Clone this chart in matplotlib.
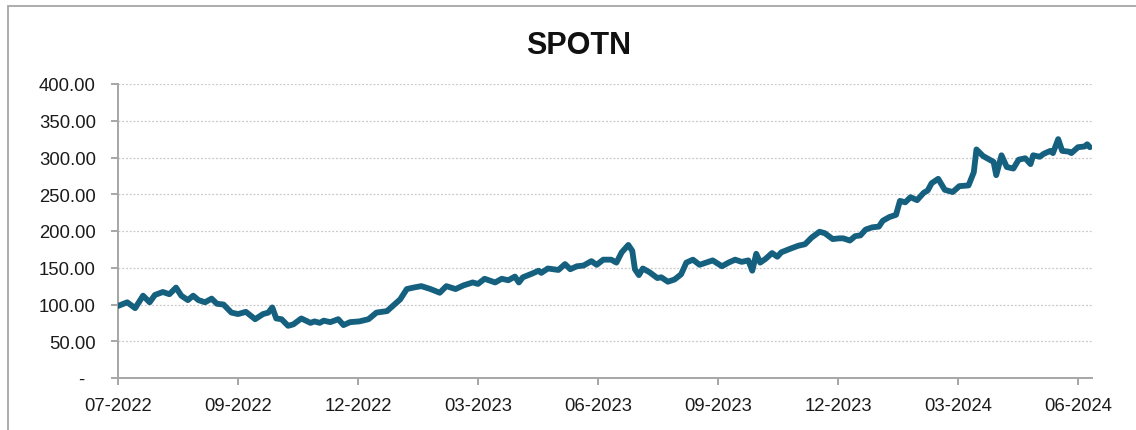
import matplotlib
matplotlib.use("Agg")
import matplotlib.pyplot as plt
import matplotlib.dates as mdates
from matplotlib.patches import Rectangle
import pandas as pd

plt.rcParams['font.family'] = ['Liberation Sans', 'DejaVu Sans']

title = "SPOTN"
start_date = "2022-07-01"
days = [0,7,13,19,24,28,34,39,44,48,
        53,57,61,66,71,75,80,86,91,97,
        104,110,114,117,120,124,129,133,139,146,
        149,153,156,161,167,171,176,183,190,196,
        204,209,214,219,224,230,237,244,249,256,
        262,269,273,278,286,291,296,301,304,307,
        314,319,321,326,334,339,343,348,353,359,
        363,368,374,378,382,387,390,392,395,398,
        403,409,412,417,422,427,431,436,441,446,
        451,458,463,468,473,478,481,484,487,491,
        496,500,503,510,516,521,526,532,536,542,
        547,550,555,559,563,567,572,577,580,585,
        590,593,597,601,606,611,614,617,622,627,
        633,638,645,649,651,656,660,664,666,670,
        674,679,683,688,692,694,699,702,707,709,
        713,716,721,723,728,733,735,737]
values = [98,103,95,112,103,113,117,114,123,112,
          106,112,106,103,108,101,100,89,87,90,
          80,87,89,96,81,80,71,73,81,75,
          77,75,78,76,80,72,76,77,80,89,
          91,99,107,121,123,125,121,116,125,121,
          126,130,128,135,130,135,133,138,130,137,
          142,146,143,149,147,155,148,152,153,159,
          154,161,161,157,171,181,173,148,140,149,
          144,136,137,131,134,141,157,161,154,157,
          160,152,157,161,158,160,146,169,157,162,
          170,165,171,176,180,182,191,199,197,189,
          190,190,187,193,194,202,205,206,214,219,
          222,241,239,246,242,252,255,265,271,256,
          253,261,262,280,311,302,298,294,276,303,
          287,285,297,299,291,303,301,305,309,306,
          325,309,308,306,314,315,318,314]
tick_dates = ["2022-07-01","2022-09-30","2022-12-30","2023-03-31","2023-06-30",
              "2023-09-29","2023-12-29","2024-03-29","2024-06-28"]
y_ticks = [0, 50, 100, 150, 200, 250, 300, 350, 400]

dates = pd.Timestamp(start_date) + pd.to_timedelta(days, unit="D")

W, H = 1136, 431
fig = plt.figure(figsize=(W/100, H/100), dpi=100)
fig.patch.set_facecolor("white")
fig.patches.append(Rectangle((8/W, -0.1), 1.2, 1 - 7/H + 0.1, transform=fig.transFigure,
                             fill=False, edgecolor="#a6a6a6", linewidth=1.3))

ax = fig.add_axes([118/W, 1 - 379/H, (1091.7 - 118)/W, (379 - 85)/H])
ax.plot(dates, values, color="#15607f", linewidth=4.2, solid_capstyle="round",
        solid_joinstyle="round", zorder=3)

ax.set_ylim(0, 400)
ax.set_xlim(pd.Timestamp(start_date), pd.Timestamp(start_date) + pd.Timedelta(days=738.4))
ax.set_yticks(y_ticks)
ax.set_yticklabels(["-  " if v == 0 else f"{v:,.2f}" for v in y_ticks])
ax.set_xticks(pd.to_datetime(tick_dates))
ax.xaxis.set_major_formatter(mdates.DateFormatter("%m-%Y"))

ax.grid(axis="y", color="#c8c8c8", linestyle=(0, (1.5, 1.5)), linewidth=0.9, zorder=0)
ax.grid(axis="x", visible=False)
for s in ["top", "right"]:
    ax.spines[s].set_visible(False)
for s in ["left", "bottom"]:
    ax.spines[s].set_color("#a6a6a6")
    ax.spines[s].set_linewidth(1.4)
ax.tick_params(axis="both", colors="#a6a6a6", labelcolor="#1a1a1a", labelsize=13.3,
               direction="out", length=5, width=1.4)
ax.tick_params(axis="y", pad=11)
ax.tick_params(axis="x", pad=9)

fig.text(579/W, 1 - 46/H, title, ha="center", va="center", fontsize=22,
         fontweight="bold", color="#111111")

fig.savefig("out.png", dpi=100, facecolor="white")
